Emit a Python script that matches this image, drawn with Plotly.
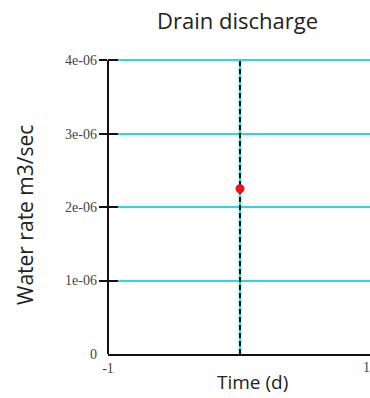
import plotly.graph_objects as go

# Drain discharge record
time_d = [0]
water_rate = [2.25e-6]

y_ticks = [0, 1e-6, 2e-6, 3e-6, 4e-6]
y_tick_labels = ["0", "1e-06", "2e-06", "3e-06", "4e-06"]
x_ticks = [-1, 1]
x_tick_labels = ["-1", "1"]

x_min, x_max = -1, 0.985
y_top = y_ticks[-1]
y_max = 4.03e-6
tick_font = dict(family="Liberation Serif", size=14, color="#444444")
label_font = dict(family="Open Sans", size=19, color="#222222")

fig = go.Figure()

# cyan guide at the sample time, overdrawn with a black dash
fig.add_trace(go.Scatter(
    x=[time_d[0], time_d[0]], y=[0, y_top], mode="lines",
    line=dict(color="#33d6d6", width=2.5), hoverinfo="skip", showlegend=False))
fig.add_trace(go.Scatter(
    x=[time_d[0], time_d[0]], y=[0, y_top], mode="lines",
    line=dict(color="#111111", width=2, dash="5px,3px"), hoverinfo="skip",
    showlegend=False))
fig.add_trace(go.Scatter(
    x=time_d, y=water_rate, mode="markers",
    marker=dict(color="#e8141c", size=9), showlegend=False))

# tick marks that cross the left axis (outer and inner halves), none at zero
tick_axis = dict(range=[0, y_max], tickvals=y_ticks[1:], overlaying="y",
                 side="left", showticklabels=False, showgrid=False,
                 zeroline=False, tickwidth=2, tickcolor="#111111", anchor="x")

fig.update_layout(
    width=370, height=398,
    margin=dict(l=108, r=0, t=58, b=44),
    plot_bgcolor="white", paper_bgcolor="white",
    xaxis=dict(range=[x_min, x_max], tickvals=x_ticks, ticktext=x_tick_labels,
               showgrid=False, zeroline=False, showline=True,
               linecolor="#111111", linewidth=2, ticks="", tickfont=tick_font,
               ticklabelstandoff=0),
    yaxis=dict(range=[0, y_max], tickvals=y_ticks, ticktext=y_tick_labels,
               showgrid=True, gridcolor="#33d6d6", gridwidth=2,
               zeroline=False, showline=False, ticks="",
               tickfont=tick_font, ticklabelstandoff=10),
    yaxis2=dict(tick_axis, ticks="outside", ticklen=8),
    yaxis3=dict(tick_axis, ticks="inside", ticklen=10),
    shapes=[
        # left axis line stops at the top tick
        dict(type="line", xref="paper", yref="y", x0=0, x1=0, y0=0, y1=y_top,
             line=dict(color="#111111", width=2)),
    ],
    annotations=[
        dict(text="Drain discharge", xref="paper", yref="paper",
             x=0.494, y=1, yanchor="middle", yshift=38, showarrow=False,
             font=dict(family="Open Sans", size=22, color="#222222")),
        dict(text="Time (d)", xref="paper", yref="paper", x=0.55, y=0,
             yanchor="middle", yshift=-28, showarrow=False, font=label_font),
        dict(text="Water rate m3/sec", xref="paper", yref="paper",
             x=0, xanchor="center", xshift=-83, y=0.5, yshift=-9,
             textangle=-90, showarrow=False,
             font=dict(family="Open Sans", size=21, color="#222222")),
        # last time tick sits just past the right edge of the plot
        dict(text=x_tick_labels[-1], xref="paper", yref="paper",
             x=(x_ticks[-1] - x_min) / (x_max - x_min), y=0, yanchor="top",
             yshift=-4, showarrow=False, font=tick_font),
    ],
)
# invisible traces so the tick-only axes get drawn
for ax in ("y2", "y3"):
    fig.add_trace(go.Scatter(x=[None], y=[None], yaxis=ax, showlegend=False,
                             hoverinfo="skip"))

fig.write_html("out.html")
